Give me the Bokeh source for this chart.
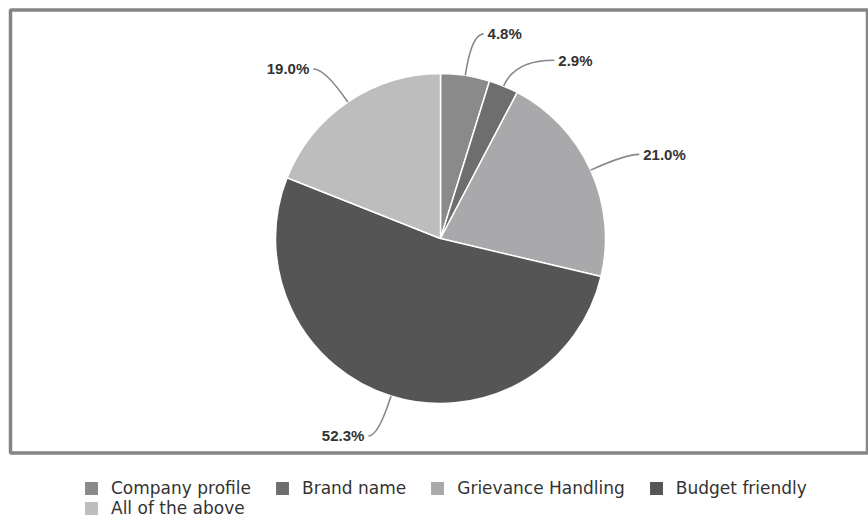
import math
from bokeh.plotting import figure
from bokeh.models import ColumnDataSource, Range1d, Legend, LegendItem
from bokeh.embed import file_html
from bokeh.resources import INLINE

# ---- data ----
categories = ["Company profile", "Brand name", "Grievance Handling", "Budget friendly", "All of the above"]
shares = [4.8, 2.9, 21.0, 52.3, 19.0]
label_texts = ["4.8%", "2.9%", "21.0%", "52.3%", "19.0%"]

# ---- style / layout ----
colors = ["#8a8a8a", "#6e6e6e", "#a9a9ac", "#555555", "#bdbdbd"]
W, H = 868, 518
CX, CY, R = 440, H - 238, 165
# leader layout: extra radius for elbow, horizontal run (px)
leader_extra = [42, 28, 38, 42, 40]
leader_run = [12, 40, 14, -10, -12]

total = sum(shares)
starts, ends, mids = [], [], []
acc = 0.0
for s in shares:
    a0 = math.pi / 2 - 2 * math.pi * acc / total
    acc += s
    a1 = math.pi / 2 - 2 * math.pi * acc / total
    starts.append(a0)
    ends.append(a1)
    mids.append((a0 + a1) / 2)

src = ColumnDataSource(dict(cat=categories, share=shares, start=starts, end=ends, color=colors))

p = figure(width=W, height=H, x_range=Range1d(0, W), y_range=Range1d(0, H),
           output_backend="svg", toolbar_location=None, min_border=0)
p.axis.visible = False
p.grid.visible = False
p.outline_line_color = None
p.background_fill_color = "white"

# frame border
p.quad(left=[10], right=[867], top=[H - 9.5], bottom=[H - 452.5],
       fill_color=None, line_color="#858585", line_width=3.5)

wr = p.wedge(x=CX, y=CY, radius=R, start_angle="start", end_angle="end",
             direction="clock", fill_color="color", line_color="white",
             line_width=1.5, source=src)

# leader lines and labels
x0s, y0s, x1s, y1s, cxs, cys, tx, ty, align = [], [], [], [], [], [], [], [], []
for m, ex, run in zip(mids, leader_extra, leader_run):
    sx, sy = CX + R * math.cos(m), CY + R * math.sin(m)
    ctrl_x, ctrl_y = CX + (R + ex) * math.cos(m), CY + (R + ex) * math.sin(m)
    exx, eyy = ctrl_x + run, ctrl_y
    x0s.append(sx); y0s.append(sy); cxs.append(ctrl_x); cys.append(ctrl_y)
    x1s.append(exx); y1s.append(eyy)
    tx.append(exx + (4 if run > 0 else -4)); ty.append(eyy)
    align.append("left" if run > 0 else "right")

p.quadratic(x0=x0s, y0=y0s, x1=x1s, y1=y1s, cx=cxs, cy=cys,
            line_color="#888888", line_width=1.6)

lab = ColumnDataSource(dict(x=tx, y=ty, t=label_texts, a=align))
p.text(x="x", y="y", text="t", text_align="a", text_baseline="middle",
       text_font_size="15px", text_font_style="bold", text_color="#333333",
       text_font={"value": "Liberation Sans"}, source=lab)

def make_legend(idxs, loc):
    lg = Legend(items=[LegendItem(label=categories[i], renderers=[wr], index=i) for i in idxs],
                orientation="horizontal", location=loc, padding=0, margin=0,
                spacing=22, glyph_width=18, glyph_height=18, label_standoff=11,
                label_height=20,
                label_text_font="DejaVu Sans", label_text_font_size="17px",
                label_text_color="#333333", border_line_color=None,
                background_fill_alpha=0)
    p.add_layout(lg, "center")

make_legend([0, 1, 2, 3], (82, 20))
make_legend([4], (82, 0))

open("out.html", "w").write(file_html(p, INLINE))
